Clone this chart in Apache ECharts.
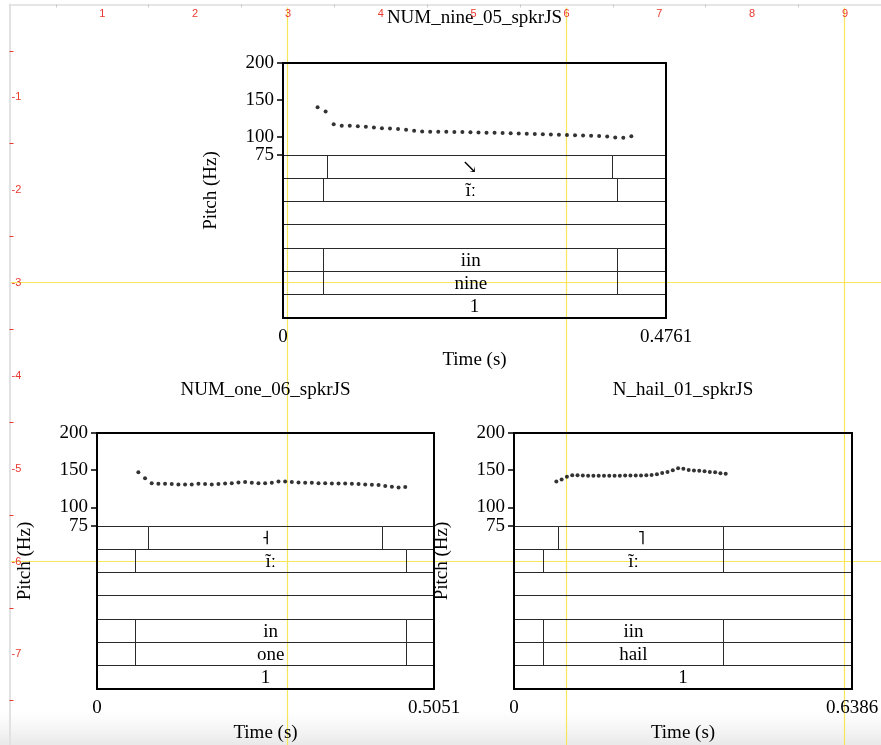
<!DOCTYPE html>
<html><head><meta charset="utf-8">
<script src="https://cdn.jsdelivr.net/npm/echarts@6/dist/echarts.min.js"></script>
<style>html,body{margin:0;padding:0;background:#fff}#c{width:881px;height:745px}</style>
</head><body><div id="c"></div>
<script>
// ---------------- data ----------------
const nineTitle = 'NUM_nine_05_spkrJS';
const nineDuration = 0.4761;
const nineTimes = [0.043,0.053,0.063,0.073,0.083,0.093,0.103,0.113,0.123,0.133,0.143,0.153,0.163,0.173,0.183,0.193,0.203,0.213,0.223,0.233,0.243,0.253,0.263,0.273,0.283,0.293,0.303,0.313,0.323,0.333,0.343,0.353,0.363,0.373,0.383,0.393,0.403,0.413,0.423,0.433];
const nineHz = [140.0,134.1,116.9,114.6,114.6,114.2,113.3,112.4,111.5,111.1,110.2,109.2,107.9,106.8,106.7,106.6,106.5,106.4,106.2,106.0,105.7,105.4,105.1,104.8,104.4,104.1,103.8,103.5,103.1,102.8,102.4,102.1,101.7,101.4,101.0,100.7,100.3,98.8,98.6,100.6];
const nineTierBounds = [[0.0547,0.4094],[0.0509,0.4161],[],[],[0.0509,0.4161],[0.0509,0.4161],[]];
const nineTierTexts = ['\u2198','\u0129\u02D0','','','iin','nine','1'];

const oneTitle = 'NUM_one_06_spkrJS';
const oneDuration = 0.5051;
const oneTimes = [0.062,0.072,0.082,0.092,0.102,0.112,0.122,0.132,0.142,0.152,0.162,0.172,0.182,0.192,0.202,0.212,0.222,0.232,0.242,0.252,0.262,0.272,0.282,0.292,0.302,0.312,0.322,0.332,0.342,0.352,0.362,0.372,0.382,0.392,0.402,0.412,0.422,0.432,0.442,0.452,0.462];
const oneHz = [147.3,139.3,132.6,131.7,131.7,131.3,130.9,130.9,130.9,131.7,131.3,130.9,131.3,132.2,132.6,133.5,134.0,133.0,132.6,132.6,133.0,134.9,134.9,134.0,133.5,133.0,133.0,132.6,132.6,132.2,132.2,132.2,131.7,131.3,130.9,130.4,130.0,128.7,127.8,126.9,127.3];
const oneTierBounds = [[0.0771,0.4281],[0.0570,0.4636],[],[],[0.0570,0.4636],[0.0570,0.4636],[]];
const oneTierTexts = ['\u02E7','\u0129\u02D0','','','in','one','1'];

const hailTitle = 'N_hail_01_spkrJS';
const hailDuration = 0.6386;
const hailTimes = [0.080,0.090,0.100,0.110,0.120,0.130,0.140,0.150,0.160,0.170,0.180,0.190,0.200,0.210,0.220,0.230,0.240,0.250,0.260,0.270,0.280,0.290,0.300,0.310,0.320,0.330,0.340,0.350,0.360,0.370,0.380,0.390,0.400];
const hailHz = [134.9,137.6,141.1,143.3,143.3,142.9,142.4,142.4,142.4,142.4,142.4,142.4,142.4,142.9,142.9,142.9,142.9,143.3,143.7,144.7,146.4,147.7,150.0,152.7,151.8,150.4,149.6,149.1,148.7,147.7,147.3,146.0,145.1];
const hailTierBounds = [[0.0846,0.3963],[0.0549,0.3963],[],[],[0.0549,0.3963],[0.0549,0.3963],[]];
const hailTierTexts = ['\u02E5','\u0129\u02D0','','','iin','hail','1'];

const pitchTicks = [75, 100, 150, 200];
const pitchName = 'Pitch (Hz)';
const timeName = 'Time (s)';

const rulerXLabels = [1,2,3,4,5,6,7,8,9];
const rulerXTicks = [0.5,1.5,2.5,3.5,4.5,5.5,6.5,7.5,8.5,9.5];
const rulerYLabels = [-1,-2,-3,-4,-5,-6,-7];
const rulerYTicks = [-0.5,-1.5,-2.5,-3.5,-4.5,-5.5,-6.5,-7.5];
const guideX = [3,6,9];
const guideY = [-3,-6];

// ---------------- layout ----------------
const SERIF = '"Liberation Serif","DejaVu Serif",serif';
const FS = 19;
const panels = [
  {title:nineTitle, dur:nineDuration, times:nineTimes, hz:nineHz, bounds:nineTierBounds, texts:nineTierTexts,
   left:283, width:383, top:63, pitchH:92, tierH:163, titleGap:35, timeGap:33},
  {title:oneTitle, dur:oneDuration, times:oneTimes, hz:oneHz, bounds:oneTierBounds, texts:oneTierTexts,
   left:97, width:337, top:433, pitchH:93, tierH:163, titleGap:33, timeGap:35},
  {title:hailTitle, dur:hailDuration, times:hailTimes, hz:hailHz, bounds:hailTierBounds, texts:hailTierTexts,
   left:514, width:338, top:433, pitchH:93, tierH:163, titleGap:33, timeGap:35}
];
const inchPx = 92.83, rulerLeft = 9.5, rulerTop = 4.5;
const rulerMaxX = (881 - rulerLeft) / inchPx;
const rulerMinY = -(745 - rulerTop) / inchPx;

const crisp = v => Math.round(v - 0.5) + 0.5;
const txt = {fontFamily: SERIF, fontSize: FS, color: '#000'};
// split tick set in two alternating groups so neighbouring labels sit on separate axes
const tickGroups = [pitchTicks.filter((v, k) => k % 2 === 0), pitchTicks.filter((v, k) => k % 2 === 1)];

const grids = [], xAxes = [], yAxes = [], series = [];

panels.forEach((p, i) => {
  const gF = grids.length, gP = gF + 1, gT = gF + 2;
  grids.push({left:p.left, top:p.top, width:p.width, height:p.pitchH + p.tierH, show:true,
    borderColor:'#000', borderWidth:2, backgroundColor:'transparent', z:10, outerBoundsMode:'none', containLabel:false});
  grids.push({left:p.left, top:p.top, width:p.width, height:p.pitchH, outerBoundsMode:'none', containLabel:false});
  grids.push({left:p.left, top:p.top + p.pitchH, width:p.width, height:p.tierH, outerBoundsMode:'none', containLabel:false});
  xAxes.push({gridIndex:gF, type:'value', position:'top', min:0, max:p.dur,
    axisLine:{show:false}, axisTick:{show:false}, axisLabel:{show:false}, splitLine:{show:false},
    name:p.title, nameLocation:'middle', nameGap:p.titleGap, nameTextStyle:txt});
  yAxes.push({gridIndex:gF, type:'value', min:0, max:1,
    axisLine:{show:false}, axisTick:{show:false}, axisLabel:{show:false}, splitLine:{show:false},
    name:pitchName, nameLocation:'middle', nameGap:62, nameRotate:90, nameTextStyle:txt});
  xAxes.push({gridIndex:gP, type:'value', min:0, max:p.dur, show:false});
  const pitchAxisIndex = yAxes.length;
  tickGroups.forEach(vals => {
    yAxes.push({gridIndex:gP, type:'value', min:75, max:200, position:'left', offset:0,
      axisLine:{show:false}, splitLine:{show:false},
      axisTick:{show:true, customValues:vals, length:6, lineStyle:{color:'#000', width:1.5}},
      axisLabel:{show:true, customValues:vals, margin:9, showMinLabel:true, showMaxLabel:true, ...txt}});
  });
  xAxes.push({gridIndex:gT, type:'value', min:0, max:p.dur,
    axisLine:{show:false}, splitLine:{show:false},
    axisTick:{show:true, customValues:[0, p.dur], length:6, lineStyle:{color:'#000', width:1.5}},
    axisLabel:{show:true, customValues:[0, p.dur], margin:10, showMinLabel:true, showMaxLabel:true, formatter:v => String(v), ...txt},
    name:timeName, nameLocation:'middle', nameGap:p.timeGap, nameTextStyle:txt});
  const tierYIndex = yAxes.length;
  yAxes.push({gridIndex:gT, type:'value', min:0, max:7, inverse:true, show:false});
  const pitchXIndex = gP, tierXIndex = gT;

  series.push({type:'scatter', xAxisIndex:pitchXIndex, yAxisIndex:pitchAxisIndex, symbol:'circle', symbolSize:4,
    itemStyle:{color:'#000'}, silent:true, z:3,
    data:p.times.map((t, k) => [t, p.hz[k]])});

  const items = [], labels = [];
  p.bounds.forEach((b, tier) => {
    const edges = [0, ...b, p.dur];
    for (let k = 0; k < edges.length - 1; k++) {
      items.push([tier, edges[k], edges[k + 1]]);
      const hasText = b.length ? (k === 1) : true;
      labels.push(hasText ? p.texts[tier] : '');
    }
  });
  series.push({type:'custom', xAxisIndex:tierXIndex, yAxisIndex:tierYIndex, silent:true, z:4, clip:false,
    data:items,
    renderItem:(params, api) => {
      const tier = api.value(0), s = api.value(1), e = api.value(2);
      const a = api.coord([s, tier]), b = api.coord([e, tier + 1]);
      const y0 = crisp(a[1]), y1 = crisp(b[1]), x0 = crisp(a[0]);
      const ch = [];
      ch.push({type:'line', shape:{x1:a[0], y1:y0, x2:b[0], y2:y0}, style:{stroke:'#2a2a2a', lineWidth:1}});
      if (s > 0) ch.push({type:'line', shape:{x1:x0, y1:y0, x2:x0, y2:y1}, style:{stroke:'#2a2a2a', lineWidth:1}});
      const t = labels[params.dataIndex];
      if (t) ch.push({type:'text', style:{text:t, x:(a[0] + b[0]) / 2, y:(a[1] + b[1]) / 2 + 1,
        align:'center', verticalAlign:'middle', font:FS + 'px ' + SERIF, fill:'#000'}});
      return {type:'group', children:ch};
    }});
});

// ruler grid
const gR = grids.length;
grids.push({left:rulerLeft, top:rulerTop, width:881 - rulerLeft, height:745 - rulerTop, z:0, outerBoundsMode:'none', containLabel:false});
const rX = xAxes.length, rY = yAxes.length;
xAxes.push({gridIndex:gR, type:'value', position:'top', min:0, max:rulerMaxX, z:0,
  axisLine:{show:true, lineStyle:{color:'#dedede', width:1.5}}, splitLine:{show:false},
  axisTick:{show:true, inside:true, customValues:rulerXTicks, length:3, lineStyle:{color:'#c8c8c8', width:1}},
  axisLabel:{show:true, inside:true, customValues:rulerXLabels, margin:4, color:'#e8392f', fontSize:11, fontFamily:'"Liberation Sans",Arial,sans-serif'}});
yAxes.push({gridIndex:gR, type:'value', min:rulerMinY, max:0, z:0,
  axisLine:{show:true, lineStyle:{color:'#e2e2e2', width:2}}, splitLine:{show:false},
  axisTick:{show:true, inside:true, customValues:rulerYTicks, length:4, lineStyle:{color:'#e8392f', width:1}},
  axisLabel:{show:true, inside:true, customValues:rulerYLabels, margin:2, color:'#e8392f', fontSize:11, fontFamily:'"Liberation Sans",Arial,sans-serif', formatter:v => String(v)}});
const guides = guideX.map(v => [v, 0]).concat(guideY.map(v => [v, 1]));
series.push({type:'custom', xAxisIndex:rX, yAxisIndex:rY, silent:true, z:-10, clip:false, data:guides,
  renderItem:(params, api) => {
    const v = api.value(0), horiz = api.value(1) === 1;
    let a, b;
    if (horiz) { a = api.coord([0, v]); b = api.coord([rulerMaxX, v]); }
    else { a = api.coord([v, -0.03]); b = api.coord([v, rulerMinY]); }
    return {type:'line', shape:{x1:crisp(a[0]), y1:crisp(a[1]), x2:crisp(b[0]), y2:crisp(b[1])},
      style:{stroke:'#f5e65a', lineWidth:1.2}};
  }});

const chart = echarts.init(document.getElementById('c'), null, {renderer:'canvas'});
chart.setOption({
  animation:false,
  backgroundColor:'#fff',
  grid:grids, xAxis:xAxes, yAxis:yAxes, series:series,
  graphic:[{type:'rect', z:-20, silent:true, shape:{x:0, y:712, width:881, height:33},
    style:{fill:new echarts.graphic.LinearGradient(0,0,0,1,[{offset:0,color:'rgba(238,238,238,0)'},{offset:1,color:'#e9e9e9'}])}}]
});
</script></body></html>
